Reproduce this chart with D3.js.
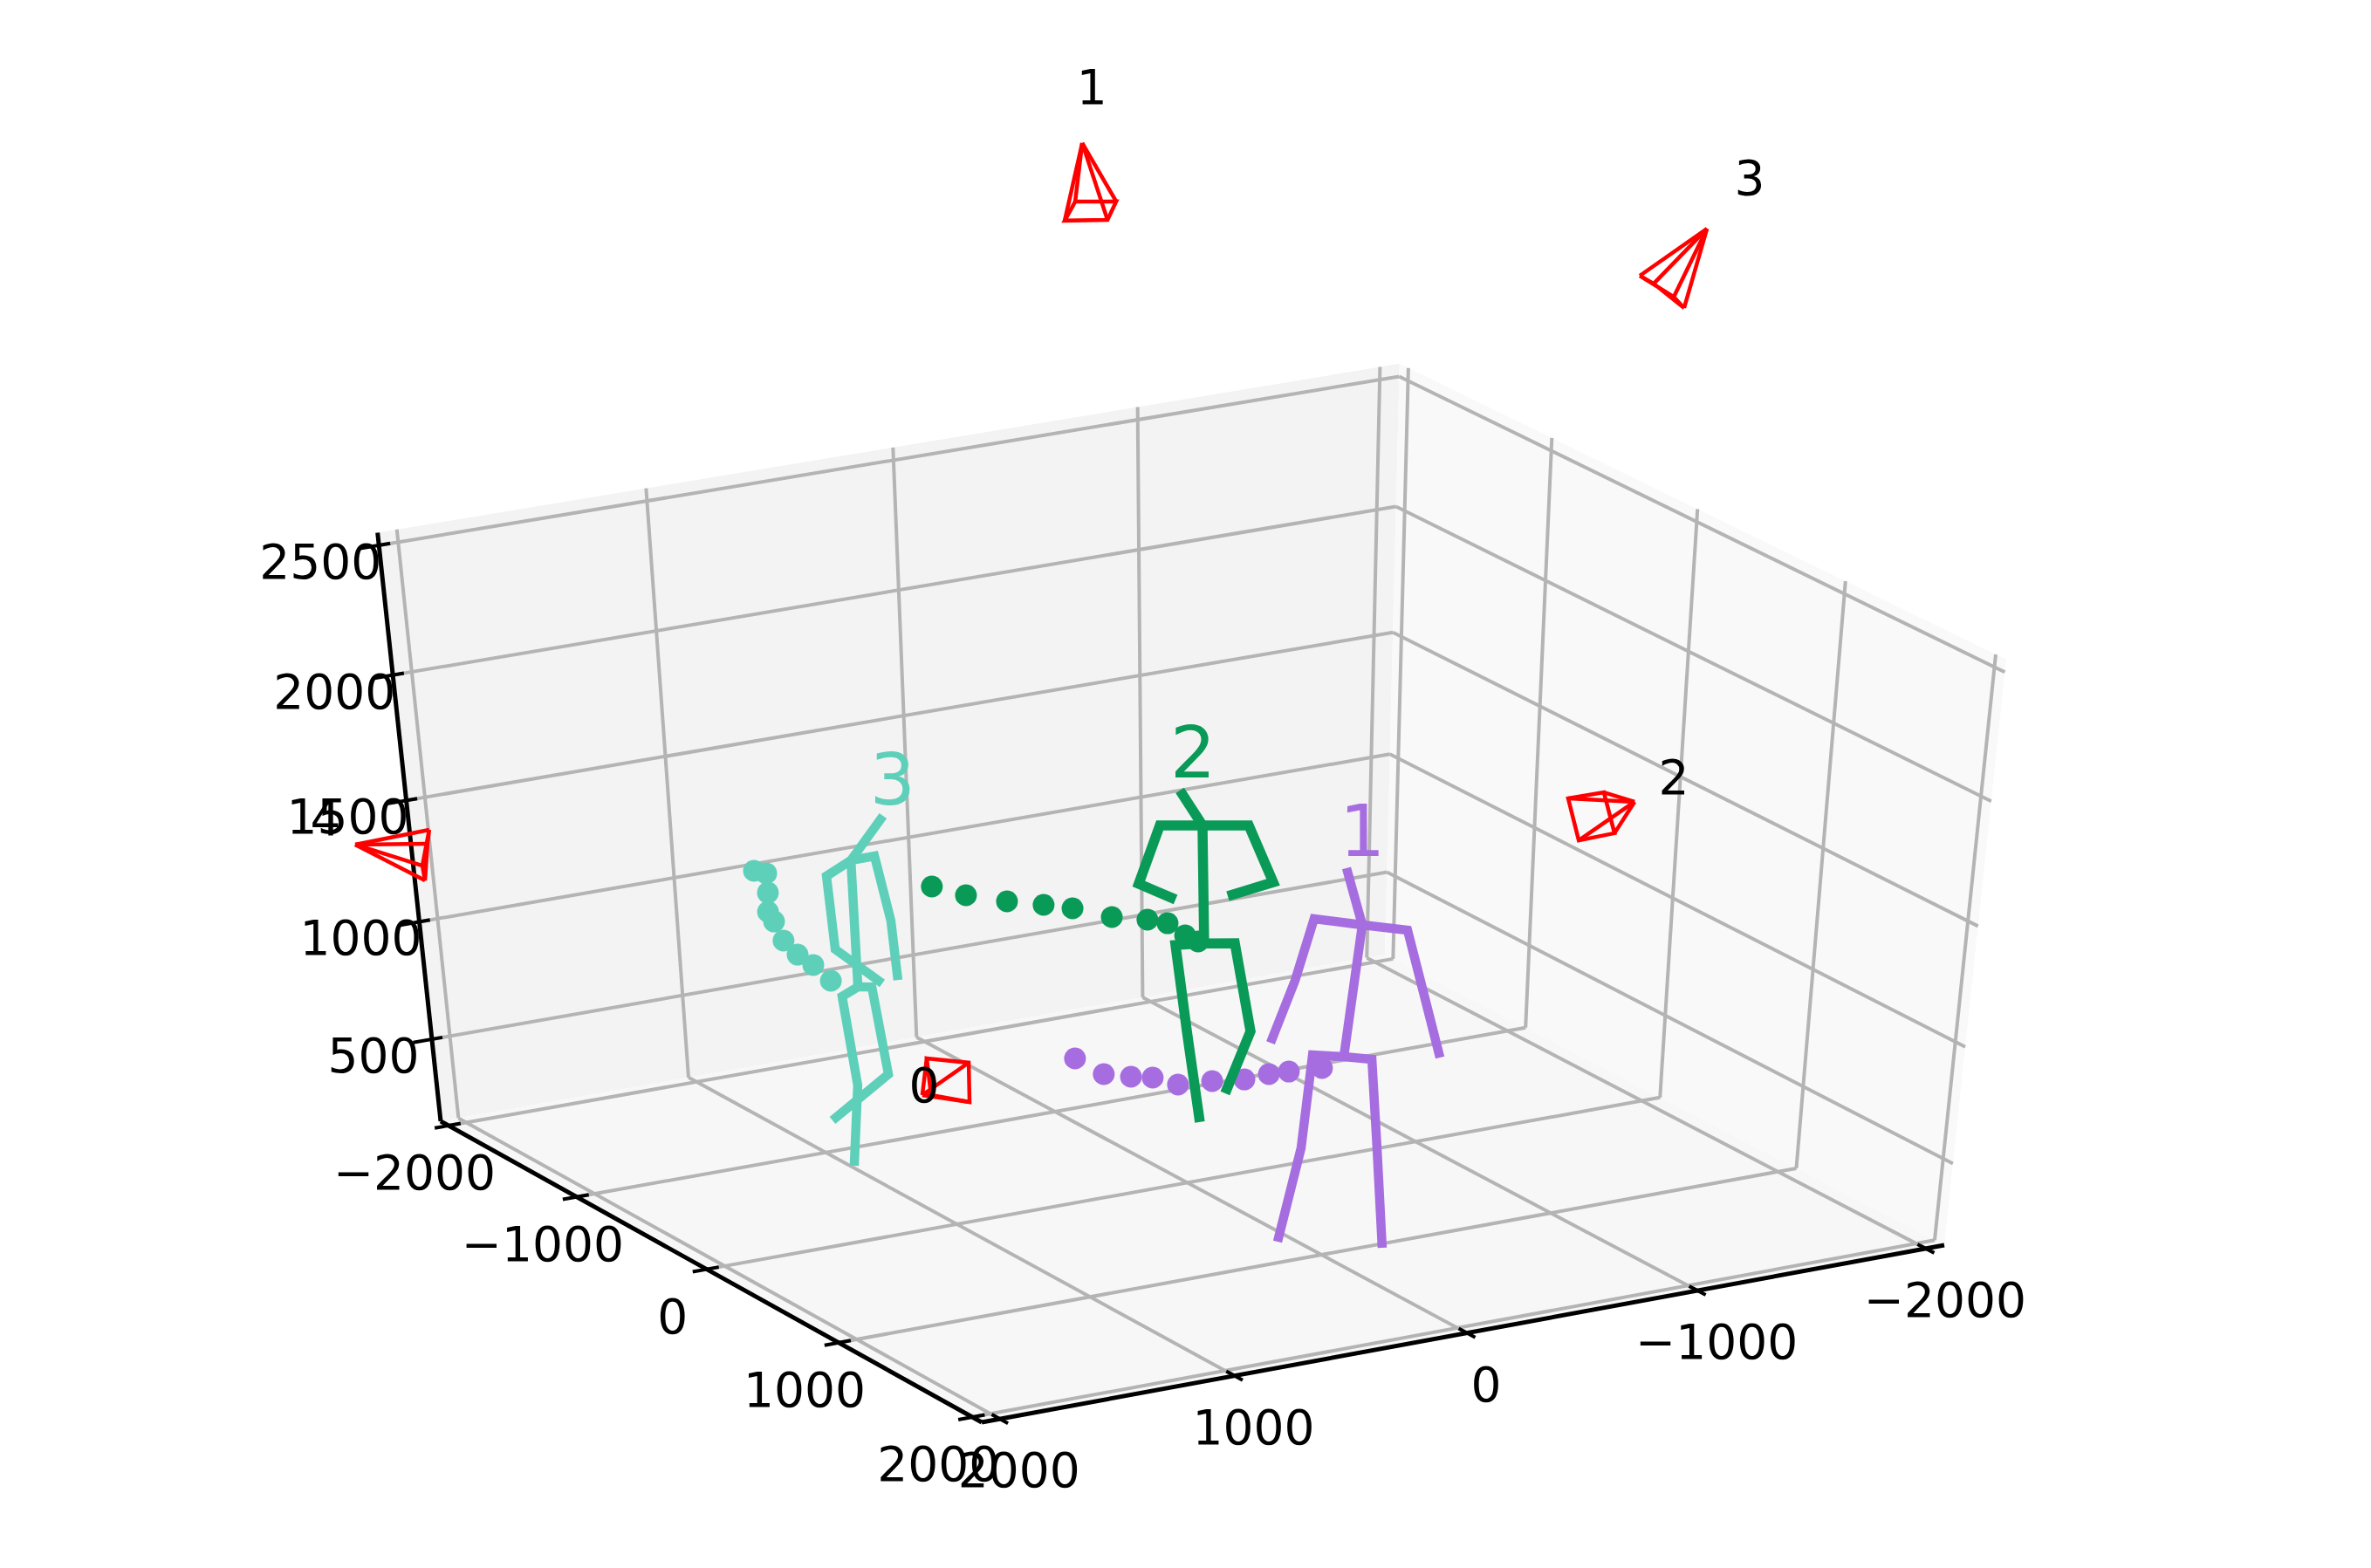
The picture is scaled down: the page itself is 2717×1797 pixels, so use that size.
<!DOCTYPE html>
<html><head><meta charset="utf-8"><title>3D poses and cameras</title><style>html,body{margin:0;background:#fff}svg{display:block}text{font-family:"DejaVu Sans"}</style>
<script src="https://cdn.jsdelivr.net/npm/d3@7"></script></head><body><script>
const W=2717,H=1797;
// ---------- axis values ----------
const xTicks=[-2000,-1000,0,1000,2000];
const yTicks=[-2000,-1000,0,1000,2000];
const zTicks=[500,1000,1500,2000,2500];
const xLim=[-2081,2077], yLim=[-2062,2069], zLim=[141,2548];
// ---------- people: joints [x,y,z]: head, neck, shoulder, elbow, wrist, shoulder, elbow, wrist, pelvis, hip, knee, ankle, hip, knee, ankle ----------
const person1Joints=[[29,1178,1830],[-41,1178,1590],[159,1178,1649],[235,1178,1410],[334,1178,1171],[-230,1178,1536],[-304,1178,1269],[-383,1178,982],[25,1178,1058],[157,1178,1089],[200,1178,701],[296,1178,312],[-94,1178,1026],[-125,1178,641],[-158,1178,200]];
const person2Joints=[[-396,-729,1514],[-491,-729,1356],[-311,-729,1386],[-220,-729,1161],[-376,-729,1069],[-687,-729,1323],[-793,-729,1070],[-599,-729,1045],[-498,-729,864],[-375,-729,878],[-423,-729,501],[-479,-729,93],[-630,-729,842],[-700,-729,452],[-590,-729,200]];
const person3Joints=[[588,-1185,1443],[730,-1185,1285],[835,-1185,1238],[814,-1185,929],[622,-1185,751],[631,-1185,1286],[574,-1185,1008],[555,-1185,754],[726,-1185,755],[795,-1185,726],[747,-1185,333],[779,-1185,-17],[667,-1185,744],[613,-1185,358],[863,-1185,200]];
// ---------- root trajectories [x,y,z] ----------
const person1Track=[[880,708,1058],[882,920,1058],[812,996,1058],[749,1044,1058],[711,1161,1058],[583,1187,1058],[472,1228,1058],[364,1219,1058],[286,1229,1058],[161,1253,1058]];
const person2Track=[[32,-1840,864],[-25,-1683,864],[-120,-1541,864],[-217,-1436,864],[-289,-1345,864],[-362,-1179,864],[-461,-1085,864],[-504,-1010,864],[-486,-849,864],[-490,-760,864]];
const person3Track=[[360,-2623,755],[336,-2572,755],[448,-2360,755],[564,-2153,755],[603,-2038,755],[688,-1815,755],[727,-1639,755],[739,-1499,755],[777,-1299,755]];
// ---------- cameras: apex, then the four image-plane corners [x,y,z] ----------
const camera0=[[-424,-2800,-422],[-450,-2800,-260],[-637,-2800,-313],[-635,-2800,-492],[-463,-2800,-429]];
const camera1=[[388,0,4220],[418,0,4026],[262,0,4004],[296,0,3946],[459,0,3967]];
const camera2=[[-3762,-3000,247],[-3457,-3000,313],[-3619,-3000,312],[-3678,-3000,124],[-3515,-3000,120]];
const camera3=[[-2361,-500,3403],[-2100,-500,3273],[-2158,-500,3236],[-2288,-500,3129],[-2243,-500,3176]];
const camera4=[[4094,1500,2704],[3810,1500,2712],[3822,1500,2661],[3846,1500,2526],[3850,1500,2583]];
const cameras=[camera0,camera1,camera2,camera3,camera4];
const cameraNames=["0","1","2","3","4"];
const personNames=["1","2","3"];
const personColors=["#a66de0","#0a9a57","#5ed0ba"];
const personWidths=[10.5,11.5,10.5];
const people=[person1Joints,person2Joints,person3Joints];
const tracks=[person1Track,person2Track,person3Track];
// pixel offsets of labels from their anchor (apex of camera / head of person)
const cameraLabelOffsets=[[2,-11],[11,-64],[45,-28],[49,-58],[-34,-30]];
const personLabelOffsets=[[18,-42],[15,-43],[11,-42]];
const bones=[[0,1],[4,3,2,1,5,6,7],[1,8],[11,10,9,8,12,13,14]];

// ---------- projection ----------
const sx=d3.scaleLinear().domain(xLim).range([0,1]),sy=d3.scaleLinear().domain(yLim).range([0,1]),sz=d3.scaleLinear().domain(zLim).range([0,1]);
const M=[[-1090.95,576.39,-103.5,1587],[168.23,291.62,-708.4,1094],[-0.01772,-0.029,-0.075,1]];
function proj(p){const a=sx(p[0]),b=sy(p[1]),c=sz(p[2]);const w=M[2][0]*a+M[2][1]*b+M[2][2]*c+M[2][3];
 return [(M[0][0]*a+M[0][1]*b+M[0][2]*c+M[0][3])/w,(M[1][0]*a+M[1][1]*b+M[1][2]*c+M[1][3])/w];}

const svg=d3.select("body").append("svg").attr("width",W).attr("height",H).attr("viewBox",`0 0 ${W} ${H}`);
const line=d3.line();
const pane=(pts,f)=>svg.append("path").attr("d",line(pts.map(proj))+"Z").attr("fill",f);
const [x0,x1]=xLim,[y0,y1]=yLim,[z0,z1]=zLim;
pane([[x1,y0,z0],[x0,y0,z0],[x0,y0,z1],[x1,y0,z1]],"#f3f3f3");
pane([[x0,y0,z0],[x0,y1,z0],[x0,y1,z1],[x0,y0,z1]],"#f9f9f9");
pane([[x0,y0,z0],[x1,y0,z0],[x1,y1,z0],[x0,y1,z0]],"#f7f7f7");
const seg=(a,b,col,w)=>svg.append("path").attr("d",line([a,b].map(proj))).attr("stroke",col).attr("stroke-width",w).attr("fill","none");
const gridCol="#b4b4b4",gridW=4;
xTicks.forEach(x=>{seg([x,y0,z0],[x,y0,z1],gridCol,gridW);seg([x,y0,z0],[x,y1,z0],gridCol,gridW);});
yTicks.forEach(y=>{seg([x0,y,z0],[x0,y,z1],gridCol,gridW);seg([x0,y,z0],[x1,y,z0],gridCol,gridW);});
zTicks.forEach(z=>{seg([x1,y0,z],[x0,y0,z],gridCol,gridW);seg([x0,y0,z],[x0,y1,z],gridCol,gridW);});
seg([x1,y0,z0],[x1,y1,z0],"#000",5);seg([x1,y1,z0],[x0,y1,z0],"#000",5);seg([x1,y0,z0],[x1,y0,z1],"#000",5);
const label=(q,t,size,fill)=>svg.append("text").attr("x",q[0]).attr("y",q[1]).attr("text-anchor","middle").attr("dominant-baseline","central").attr("font-size",size).attr("fill",fill).text(t);
const off=(p,d)=>{const q=proj(p);return [q[0]+d[0],q[1]+d[1]];};
const fmt=v=>v<0?"\u2212"+(-v):""+v;
xTicks.forEach(x=>{seg([x,y1+60,z0],[x,y1-60,z0],"#000",4);label(off([x,y1,z0],[22,59]),fmt(x),55,"#000");});
yTicks.forEach(y=>{seg([x1+60,y,z0],[x1-52,y,z0],"#000",4);label(off([x1,y,z0],[-39,54]),fmt(y),55,"#000");});
zTicks.forEach(z=>{seg([x1+80,y0,z],[x1-45,y0,z],"#000",4);label(off([x1,y0,z],[-67,19]),fmt(z),55,"#000");});
// cameras
cameras.forEach(cam=>{const [apex,...corners]=cam;
 const st=(pts,closed)=>svg.append("path").attr("d",line(pts.map(proj))+(closed?"Z":"")).attr("fill","none").attr("stroke","#f00").attr("stroke-width",4.5);
 st(corners,true);corners.forEach(r=>st([apex,r]));});
// people
people.forEach((J,i)=>{
 svg.append("g").selectAll("circle").data(tracks[i]).join("circle")
  .attr("cx",d=>proj(d)[0]).attr("cy",d=>proj(d)[1]).attr("r",12.5).attr("fill",personColors[i]);
 bones.forEach(ch=>svg.append("path").attr("d",line(ch.map(k=>proj(J[k])))).attr("fill","none").attr("stroke",personColors[i]).attr("stroke-width",personWidths[i]).attr("stroke-linejoin","miter"));
 label(off(J[0],personLabelOffsets[i]),personNames[i],82,personColors[i]);
});
cameras.forEach((cam,i)=>label(off(cam[0],cameraLabelOffsets[i]),cameraNames[i],55,"#000"));
</script></body></html>
